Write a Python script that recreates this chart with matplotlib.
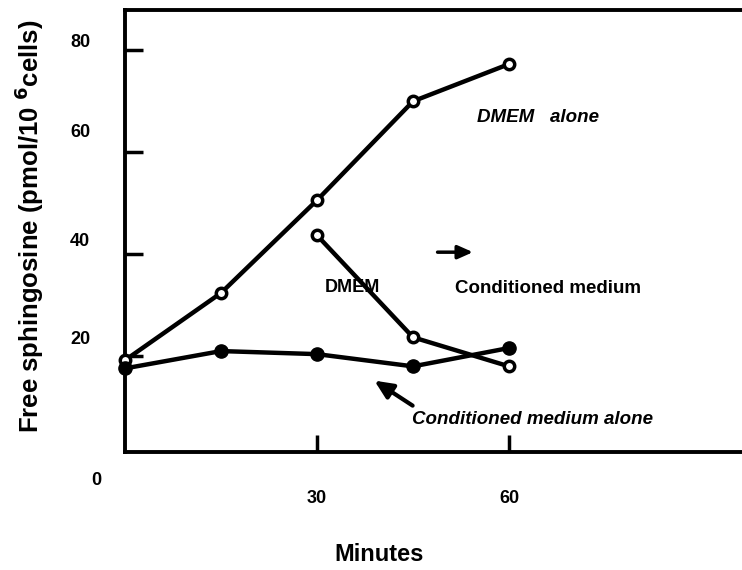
import matplotlib
matplotlib.use("Agg")
import matplotlib.pyplot as plt

plt.rcParams['font.family'] = ['Liberation Sans', 'DejaVu Sans']
plt.rcParams['font.weight'] = 'bold'
plt.rcParams['mathtext.default'] = 'bf'

# data
minutes = [0, 15, 30, 45, 60]
dmem_alone = [19.2, 32.4, 50.6, 70.0, 77.3]
cond_alone = [17.6, 21.0, 20.4, 18.0, 21.6]
switch_minutes = [30, 45, 60]
dmem_to_cond = [43.7, 23.7, 18.0]

x_ticks = [30, 60]
x_ticklabels = ["30", "60"]
y_marks = [20, 40, 60, 80]
# the printed numbers sit a little above their tick marks
y_label_pos = [23.7, 42.9, 64.3, 82.0]
y_ticklabels = ["20", "40", "60", "80"]

fig = plt.figure(figsize=(7.42, 5.70), dpi=100)
ax = fig.add_axes([0.1685, 0.207, 0.8315, 0.7754])

ax.plot(minutes, dmem_alone, color='black', lw=3.2, marker='o', ms=7.5,
        mfc='white', mec='black', mew=2.5, clip_on=False, zorder=3)
ax.plot(switch_minutes, dmem_to_cond, color='black', lw=3.2, marker='o', ms=7.5,
        mfc='white', mec='black', mew=2.5, clip_on=False, zorder=3)
ax.plot(minutes, cond_alone, color='black', lw=3.2, marker='o', ms=9.5,
        mfc='black', mec='black', clip_on=False, zorder=4)

ax.set_xlim(0, 96.4)
ax.set_ylim(1.2, 87.9)

for s in ['left', 'top', 'bottom']:
    ax.spines[s].set_linewidth(2.8)
ax.spines['right'].set_visible(False)

ax.set_xticks(x_ticks)
ax.set_xticklabels(x_ticklabels, fontsize=13, fontweight='bold')
ax.tick_params(axis='x', direction='in', length=12, width=2.5, pad=27)

ax.set_yticks(y_label_pos)
ax.set_yticklabels(y_ticklabels, fontsize=13, fontweight='bold')
ax.set_yticks(y_marks, minor=True)
ax.tick_params(axis='y', which='major', length=0, pad=25)
ax.tick_params(axis='y', which='minor', direction='in', length=13, width=2.5)

ax.text(-4.5, -4.3, "0", fontsize=13, fontweight='bold', ha='center', va='center')

ax.set_xlabel("Minutes", fontsize=17, fontweight='bold')
ax.xaxis.set_label_coords(0.412, -0.205)
ax.set_ylabel("Free sphingosine (pmol/10 $^{6}$cells)", fontsize=18.5, fontweight='bold')
ax.yaxis.set_label_coords(-0.128, 0.51)

ax.text(55, 66.9, "DMEM   alone", fontsize=13.5, fontweight='bold', style='italic', va='center')
ax.text(31.2, 33.5, "DMEM", fontsize=13, fontweight='bold', va='center')
ax.text(51.6, 33.3, "Conditioned medium", fontsize=13.5, fontweight='bold', va='center')
ax.text(44.8, 7.5, "Conditioned medium alone", fontsize=13.5, fontweight='bold',
        style='italic', va='center')

ax.annotate("", xy=(54.8, 40.4), xytext=(48.4, 40.4),
            arrowprops=dict(arrowstyle='-|>,head_length=0.9,head_width=0.4',
                            color='black', lw=2.5))
ax.annotate("", xy=(38.6, 15.5), xytext=(45.3, 10.0),
            arrowprops=dict(arrowstyle='-|>,head_length=1.1,head_width=0.5',
                            color='black', lw=3))

fig.savefig("out.png", dpi=100)
